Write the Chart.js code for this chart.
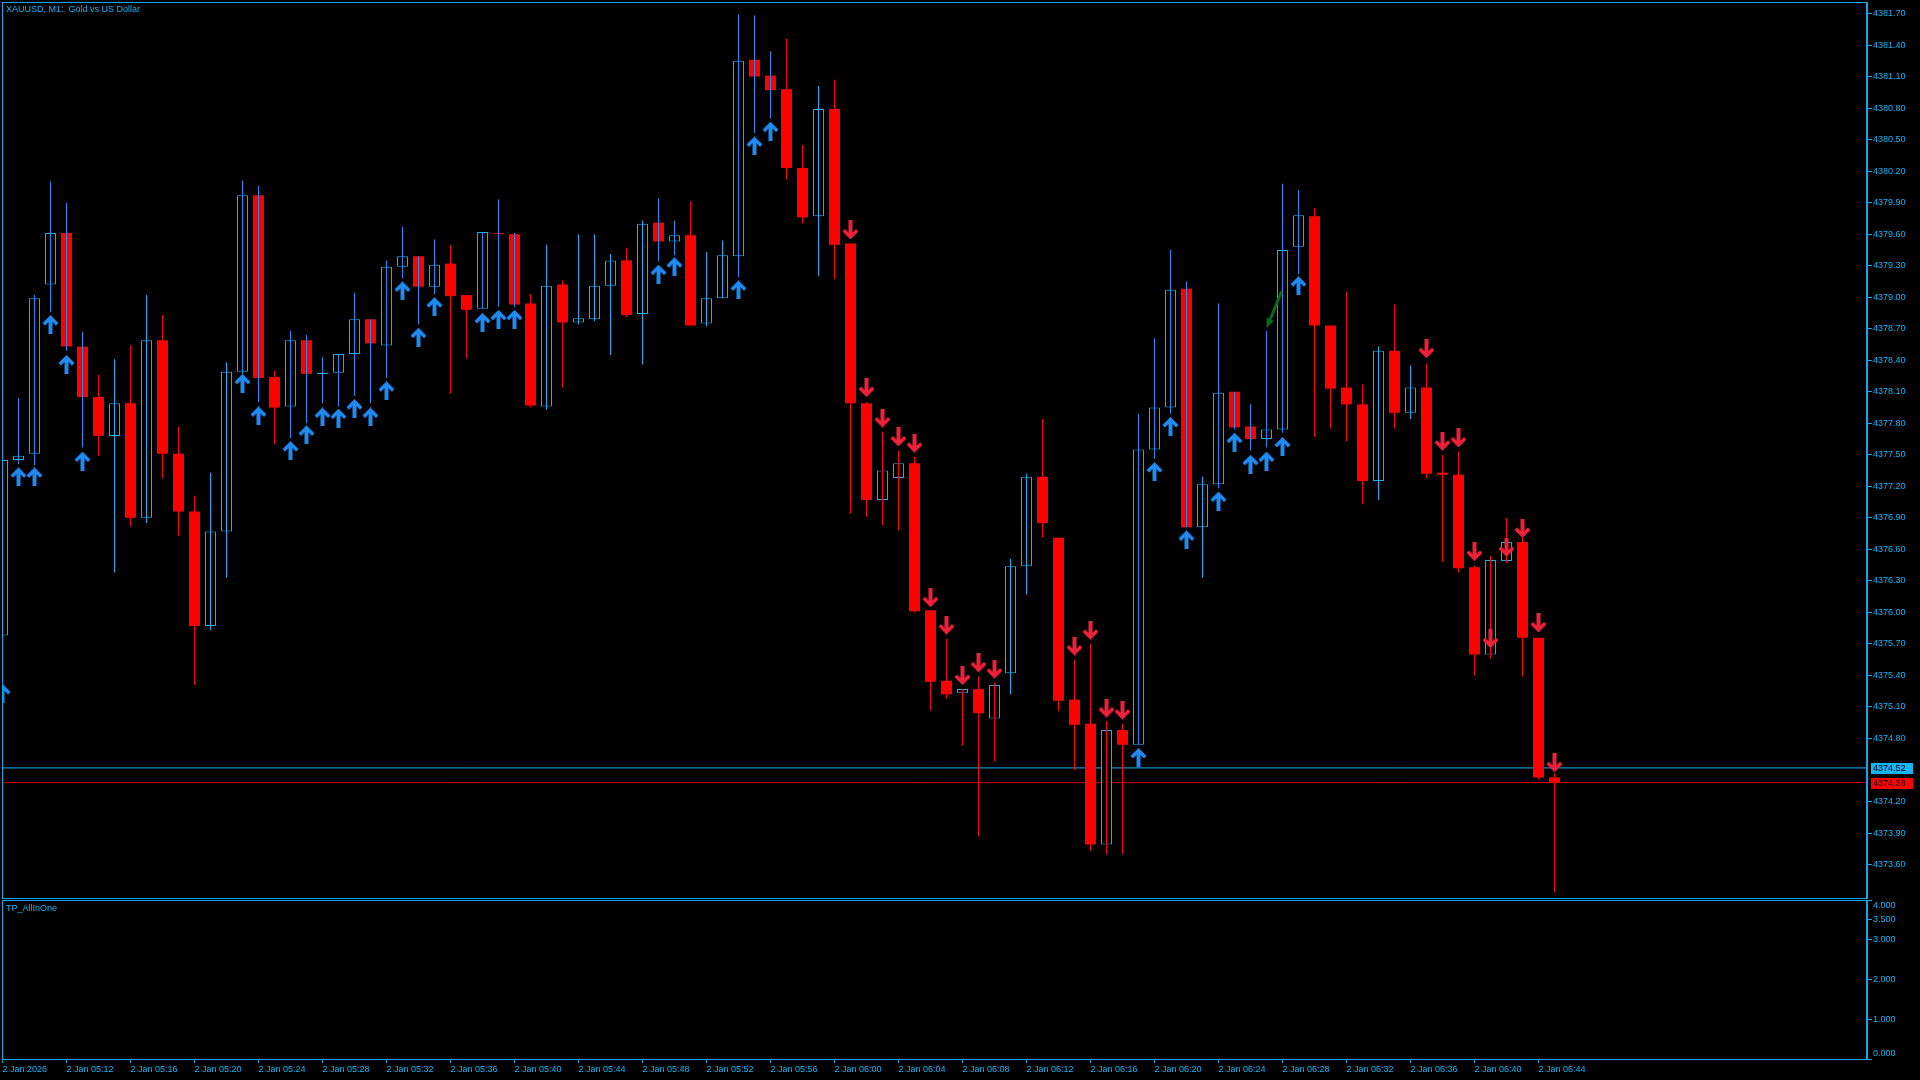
<!DOCTYPE html>
<html>
<head>
<meta charset="utf-8">
<title>XAUUSD, M1</title>
<script src="https://cdn.jsdelivr.net/npm/chart.js@4/dist/chart.umd.min.js"></script>
<style>
  html, body { margin: 0; padding: 0; background: #000; width: 1920px; height: 1080px; overflow: hidden; }
  canvas { position: absolute; left: 0; }
  #priceCanvas { top: 0; }
  #indCanvas { top: 890px; }
  .label { position: absolute; font: 9px 'Liberation Sans', sans-serif; line-height: 11px; color: #14B4FA; white-space: pre; }
</style>
</head>
<body>
<canvas id="priceCanvas" width="1920" height="900"></canvas>
<canvas id="indCanvas" width="1920" height="190"></canvas>
<div class="label" style="left:6px; top:4px;">XAUUSD, M1:  Gold vs US Dollar</div>
<div class="label" style="left:6px; top:903px;">TP_AllInOne</div>
<script>
// XAUUSD M1 candles, 2 Jan 2026 05:08 .. 06:45 (index = minutes after 05:08)
const opens = [
  4375.78, 4377.45, 4377.51, 4379.12, 4379.61, 4378.53, 4378.05, 4377.68, 4377.99, 4376.90,
  4378.59, 4377.51, 4376.96, 4375.87, 4376.77, 4378.29, 4379.97, 4378.24, 4377.96, 4378.59,
  4378.27, 4378.28, 4378.46, 4378.79, 4378.54, 4379.29, 4379.39, 4379.10, 4379.32, 4379.02,
  4378.89, 4379.61, 4379.60, 4378.94, 4377.96, 4379.12, 4378.76, 4378.79, 4379.11, 4379.35,
  4378.84, 4379.71, 4379.53, 4379.59, 4378.75, 4378.99, 4379.39, 4381.26, 4381.11, 4380.98,
  4380.23, 4379.77, 4380.79, 4379.51, 4377.99, 4377.07, 4377.28, 4377.42, 4376.02, 4375.35,
  4375.23, 4375.27, 4374.99, 4375.42, 4376.44, 4377.29, 4376.71, 4375.17, 4374.94, 4373.79,
  4374.88, 4374.74, 4377.55, 4377.95, 4379.08, 4376.81, 4377.22, 4378.10, 4377.77, 4377.65,
  4377.74, 4379.48, 4379.77, 4378.73, 4378.14, 4377.98, 4377.25, 4378.49, 4377.90, 4378.14,
  4377.33, 4377.31, 4376.43, 4375.60, 4376.49, 4376.67, 4375.76, 4374.43
];
const highs = [
  4377.55, 4378.04, 4379.02, 4380.10, 4379.90, 4378.67, 4378.26, 4378.41, 4378.54, 4379.02,
  4378.83, 4377.77, 4377.11, 4377.33, 4378.38, 4380.11, 4380.06, 4378.30, 4378.68, 4378.64,
  4378.43, 4378.46, 4379.04, 4378.79, 4379.35, 4379.67, 4379.39, 4379.55, 4379.50, 4379.02,
  4379.62, 4379.93, 4379.61, 4379.03, 4379.50, 4379.16, 4379.60, 4379.60, 4379.41, 4379.47,
  4379.73, 4379.94, 4379.73, 4379.91, 4379.43, 4379.54, 4381.69, 4381.68, 4381.34, 4381.46,
  4380.45, 4381.01, 4381.07, 4379.51, 4378.00, 4377.72, 4377.54, 4377.48, 4376.02, 4375.75,
  4375.27, 4375.39, 4375.33, 4376.51, 4377.32, 4377.84, 4376.71, 4375.55, 4375.70, 4374.97,
  4374.94, 4377.89, 4378.61, 4379.45, 4379.15, 4377.29, 4378.94, 4378.10, 4377.98, 4378.68,
  4380.08, 4380.02, 4379.85, 4378.73, 4379.05, 4378.17, 4378.53, 4378.93, 4378.35, 4378.37,
  4377.50, 4377.53, 4376.45, 4376.54, 4376.90, 4376.71, 4375.76, 4374.47
];
const lows = [
  4375.35, 4377.41, 4377.40, 4378.86, 4378.49, 4377.57, 4377.49, 4376.38, 4376.82, 4376.85,
  4377.28, 4376.73, 4375.31, 4375.83, 4376.33, 4378.27, 4378.00, 4377.60, 4377.66, 4377.80,
  4377.99, 4377.96, 4378.06, 4377.99, 4378.23, 4379.18, 4378.74, 4379.03, 4378.08, 4378.42,
  4378.89, 4378.91, 4378.91, 4377.95, 4377.93, 4378.14, 4378.74, 4378.77, 4378.45, 4378.81,
  4378.36, 4379.34, 4379.40, 4378.73, 4378.72, 4378.99, 4379.19, 4380.56, 4380.70, 4380.12,
  4379.70, 4379.20, 4379.17, 4376.94, 4376.91, 4376.83, 4376.78, 4376.00, 4375.07, 4375.18,
  4374.73, 4373.87, 4374.58, 4375.22, 4376.17, 4376.71, 4375.06, 4374.50, 4373.73, 4373.70,
  4373.70, 4374.74, 4377.46, 4377.89, 4376.81, 4376.33, 4377.18, 4377.74, 4377.54, 4377.57,
  4377.71, 4379.22, 4377.67, 4377.75, 4377.63, 4377.03, 4377.07, 4377.75, 4377.84, 4377.28,
  4376.48, 4376.38, 4375.40, 4375.56, 4376.47, 4375.39, 4374.41, 4373.34
];
const closes = [
  4377.45, 4377.49, 4378.99, 4379.61, 4378.53, 4378.05, 4377.68, 4377.99, 4376.90, 4378.59,
  4377.51, 4376.96, 4375.87, 4376.77, 4378.29, 4379.97, 4378.23, 4377.95, 4378.59, 4378.27,
  4378.28, 4378.46, 4378.79, 4378.56, 4379.29, 4379.39, 4379.10, 4379.31, 4379.01, 4378.88,
  4379.62, 4379.60, 4378.93, 4377.97, 4379.11, 4378.76, 4378.80, 4379.11, 4379.35, 4378.83,
  4379.70, 4379.53, 4379.59, 4378.73, 4378.99, 4379.40, 4381.25, 4381.10, 4380.97, 4380.23,
  4379.76, 4380.79, 4379.50, 4377.99, 4377.07, 4377.35, 4377.42, 4376.01, 4375.34, 4375.22,
  4375.27, 4375.04, 4375.31, 4376.44, 4377.29, 4376.85, 4375.16, 4374.93, 4373.79, 4374.88,
  4374.74, 4377.55, 4377.95, 4379.07, 4376.81, 4377.22, 4378.09, 4377.76, 4377.65, 4377.74,
  4379.45, 4379.78, 4378.73, 4378.13, 4377.98, 4377.25, 4378.49, 4377.90, 4378.14, 4377.32,
  4377.31, 4376.42, 4375.60, 4376.50, 4376.67, 4375.76, 4374.43, 4374.38
];

// TP_AllInOne signal arrows
const upArrowBars = [0, 1, 2, 3, 4, 5, 15, 16, 18, 19, 20, 21, 22, 23, 24, 25, 26, 27, 30, 31, 32,
  41, 42, 46, 47, 48, 71, 72, 73, 74, 76, 77, 78, 79, 80, 81];
const upArrowPrices = [4375.23, 4377.29, 4377.29, 4378.74, 4378.36, 4377.44, 4378.18, 4377.87,
  4377.54, 4377.69, 4377.86, 4377.85, 4377.94, 4377.86, 4378.11, 4379.06, 4378.62, 4378.91,
  4378.76, 4378.79, 4378.79, 4379.22, 4379.29, 4379.07, 4380.44, 4380.58, 4374.62, 4377.34,
  4377.77, 4376.69, 4377.06, 4377.62, 4377.41, 4377.44, 4377.58, 4379.11];
const downArrowBars = [53, 54, 55, 56, 57, 58, 59, 60, 61, 62, 67, 68, 69, 70,
  89, 90, 91, 92, 93, 94, 95, 96, 97];
const downArrowPrices = [4379.64, 4378.14, 4377.85, 4377.67, 4377.61, 4376.14, 4375.88, 4375.40,
  4375.52, 4375.46, 4375.68, 4375.83, 4375.09, 4375.07, 4378.51, 4377.63, 4377.66, 4376.58,
  4375.75, 4376.62, 4376.80, 4375.90, 4374.57];
const signalArrowBars = [79.47];
const signalArrowPrices = [4378.88];

const askPrice = 4374.52;
const bidPrice = 4374.38;

const priceTicks = [4381.70, 4381.40, 4381.10, 4380.80, 4380.50, 4380.20, 4379.90, 4379.60,
  4379.30, 4379.00, 4378.70, 4378.40, 4378.10, 4377.80, 4377.50, 4377.20, 4376.90, 4376.60,
  4376.30, 4376.00, 4375.70, 4375.40, 4375.10, 4374.80, 4374.20, 4373.90, 4373.60];
const timeTickBars = [0, 4, 8, 12, 16, 20, 24, 28, 32, 36, 40, 44, 48, 52, 56, 60, 64, 68, 72, 76, 80, 84, 88, 92, 96];
const timeTickLabels = ['2 Jan 2026', '2 Jan 05:12', '2 Jan 05:16', '2 Jan 05:20', '2 Jan 05:24',
  '2 Jan 05:28', '2 Jan 05:32', '2 Jan 05:36', '2 Jan 05:40', '2 Jan 05:44', '2 Jan 05:48',
  '2 Jan 05:52', '2 Jan 05:56', '2 Jan 06:00', '2 Jan 06:04', '2 Jan 06:08', '2 Jan 06:12',
  '2 Jan 06:16', '2 Jan 06:20', '2 Jan 06:24', '2 Jan 06:28', '2 Jan 06:32', '2 Jan 06:36',
  '2 Jan 06:40', '2 Jan 06:44'];
const indicatorTicks = [0, 1, 2, 3, 3.5, 4];

// Colours
const AXIS_BLUE = '#12A8EE';
const TEXT_BLUE = '#14B4FA';
const CANDLE_BLUE = '#16AEF5';
const SIGNAL_BLUE = '#1E8CF5';
const CANDLE_RED = '#FF0000';
const ARROW_BLUE = '#1E8AF2';
const ARROW_RED = '#F0203A';
const SIGNAL_GREEN = '#0E6B1A';
const FONT = { family: 'Liberation Sans', size: 9 };

// x range: one bar = 16px, bar centres on half pixels
const X_MIN = -0.03125;
const X_MAX = 116.53125;
const Y_MIN = 4373.282;
const Y_MAX = 4381.8095;

// Arrow glyphs
function makeArrow(color, down) {
    const c = document.createElement('canvas');
    c.width = 17;
    c.height = 19;
    const g = c.getContext('2d');
    if (down) {
        g.translate(0, 19);
        g.scale(1, -1);
    }
    g.fillStyle = color;
    g.beginPath();
    g.moveTo(8.5, 0);
    g.lineTo(16.5, 8);
    g.lineTo(14, 10.5);
    g.lineTo(10.5, 7);
    g.lineTo(10.5, 19);
    g.lineTo(6.5, 19);
    g.lineTo(6.5, 7);
    g.lineTo(3, 10.5);
    g.lineTo(0.5, 8);
    g.closePath();
    g.fill();
    return c;
}

function makeSignalArrow() {
    const c = document.createElement('canvas');
    c.width = 18;
    c.height = 40;
    const g = c.getContext('2d');
    g.strokeStyle = SIGNAL_GREEN;
    g.fillStyle = SIGNAL_GREEN;
    g.lineWidth = 3;
    g.beginPath();
    g.moveTo(16.5, 1.5);
    g.lineTo(5.3, 29.2);
    g.stroke();
    g.beginPath();
    g.moveTo(1.5, 38.5);
    g.lineTo(9.0, 30.7);
    g.lineTo(1.5, 27.7);
    g.closePath();
    g.fill();
    return c;
}

const upArrow = makeArrow(ARROW_BLUE, false);
const downArrow = makeArrow(ARROW_RED, true);
const signalArrow = makeSignalArrow();

// Wick colour follows the indicator signal, otherwise candle direction
const wickColors = opens.map((o, i) => {
    if (upArrowBars.includes(i)) return SIGNAL_BLUE;
    if (downArrowBars.includes(i)) return CANDLE_RED;
    return closes[i] >= o ? CANDLE_BLUE : CANDLE_RED;
});
const isUp = opens.map((o, i) => closes[i] >= o);

// keep the plot area where the layout padding puts it
function noPad(s) {
    s.paddingLeft = 0;
    s.paddingRight = 0;
    s.paddingTop = 0;
    s.paddingBottom = 0;
}

// Frame around each panel
const framePlugin = {
    id: 'frame',
    afterDraw(chart) {
        const { ctx, chartArea } = chart;
        ctx.save();
        ctx.strokeStyle = AXIS_BLUE;
        ctx.lineWidth = 1;
        ctx.strokeRect(chartArea.left + 0.5, chartArea.top + 0.5,
            chartArea.right - chartArea.left - 1, chartArea.bottom - chartArea.top);
        ctx.restore();
    }
};

// Ask / bid tags on the price scale
const priceTagPlugin = {
    id: 'priceTags',
    afterDraw(chart) {
        const { ctx, chartArea } = chart;
        const y = chart.scales.y;
        ctx.save();
        ctx.font = '9px "Liberation Sans"';
        ctx.textBaseline = 'middle';
        [[askPrice, '#14B4FA'], [bidPrice, '#FF0000']].forEach(([p, color]) => {
            const py = Math.round(y.getPixelForValue(p));
            ctx.fillStyle = color;
            ctx.fillRect(chartArea.right + 4, py - 5, 42, 11);
            ctx.fillStyle = '#000';
            ctx.fillText(p.toFixed(2), chartArea.right + 6, py + 1);
        });
        ctx.restore();
    }
};

new Chart(document.getElementById('priceCanvas'), {
    type: 'bar',
    data: {
        datasets: [
            {
                type: 'scatter',
                label: 'up signals',
                data: upArrowBars.map((b, i) => ({ x: b, y: upArrowPrices[i] })),
                pointStyle: upArrow,
                pointRadius: 8,
                clip: 0,
                order: 0
            },
            {
                type: 'scatter',
                label: 'down signals',
                data: downArrowBars.map((b, i) => ({ x: b, y: downArrowPrices[i] })),
                pointStyle: downArrow,
                pointRadius: 8,
                clip: 0,
                order: 0
            },
            {
                type: 'scatter',
                label: 'arrow object',
                data: signalArrowBars.map((b, i) => ({ x: b, y: signalArrowPrices[i] })),
                pointStyle: signalArrow,
                pointRadius: 8,
                clip: 0,
                order: 0
            },
            {
                label: 'wicks',
                data: opens.map((o, i) => ({ x: i, y: [lows[i], highs[i]] })),
                backgroundColor: wickColors,
                borderWidth: 0,
                barThickness: 1,
                grouped: false,
                inflateAmount: 0,
                clip: 0,
                order: 1
            },
            {
                label: 'bodies',
                data: opens.map((o, i) => ({ x: i, y: [o, closes[i]] })),
                backgroundColor: isUp.map(u => u ? '#000000' : CANDLE_RED),
                borderColor: isUp.map(u => u ? CANDLE_BLUE : CANDLE_RED),
                borderWidth: isUp.map(u => u ? 1 : 0),
                borderSkipped: false,
                barThickness: 11,
                grouped: false,
                inflateAmount: 0,
                clip: 0,
                order: 2
            },
            {
                type: 'line',
                label: 'ask',
                data: [{ x: X_MIN, y: askPrice }, { x: X_MAX, y: askPrice }],
                borderColor: '#14B4FA',
                borderWidth: 1,
                pointRadius: 0,
                clip: 0,
                order: 3
            },
            {
                type: 'line',
                label: 'bid',
                data: [{ x: X_MIN, y: bidPrice }, { x: X_MAX, y: bidPrice }],
                borderColor: '#D00000',
                borderWidth: 1,
                pointRadius: 0,
                clip: 0,
                order: 3
            }
        ]
    },
    options: {
        responsive: false,
        animation: false,
        events: [],
        layout: { autoPadding: false, padding: { left: 2, top: 2, right: 0, bottom: 2 } },
        plugins: { legend: { display: false }, tooltip: { enabled: false } },
        scales: {
            x: {
                type: 'linear',
                min: X_MIN,
                max: X_MAX,
                offset: false,
                display: false,
                afterFit: s => { noPad(s); }
            },
            y: {
                type: 'linear',
                position: 'right',
                min: Y_MIN,
                max: Y_MAX,
                afterFit: s => { s.width = 53; noPad(s); },
                afterBuildTicks: s => { s.ticks = priceTicks.map(v => ({ value: v })); },
                grid: { drawOnChartArea: false, color: AXIS_BLUE, tickLength: 5 },
                border: { display: true, color: AXIS_BLUE },
                ticks: {
                    color: TEXT_BLUE,
                    font: FONT,
                    padding: 1,
                    autoSkip: false,
                    callback: v => Number(v).toFixed(2)
                }
            }
        }
    },
    plugins: [framePlugin, priceTagPlugin]
});

// Indicator sub-window (empty)
new Chart(document.getElementById('indCanvas'), {
    type: 'line',
    data: { datasets: [{ label: 'TP_AllInOne', data: [] }] },
    options: {
        responsive: false,
        animation: false,
        events: [],
        layout: { autoPadding: false, padding: { left: 2, top: 10, right: 0, bottom: 0 } },
        plugins: { legend: { display: false }, tooltip: { enabled: false } },
        scales: {
            x: {
                type: 'linear',
                min: X_MIN,
                max: X_MAX,
                offset: false,
                afterFit: s => { s.height = 21; noPad(s); },
                afterBuildTicks: s => { s.ticks = timeTickBars.map(v => ({ value: v })); },
                grid: { drawOnChartArea: false, color: AXIS_BLUE, tickLength: 4 },
                border: { display: true, color: AXIS_BLUE },
                ticks: {
                    color: TEXT_BLUE,
                    font: FONT,
                    padding: 1,
                    align: 'start',
                    maxRotation: 0,
                    autoSkip: false,
                    callback: (v, idx) => timeTickLabels[idx]
                }
            },
            y: {
                type: 'linear',
                position: 'right',
                min: 0,
                max: 4,
                afterFit: s => { s.width = 53; noPad(s); },
                afterBuildTicks: s => { s.ticks = indicatorTicks.map(v => ({ value: v })); },
                grid: { drawOnChartArea: false, color: AXIS_BLUE, tickLength: 5 },
                border: { display: true, color: AXIS_BLUE },
                ticks: {
                    color: TEXT_BLUE,
                    font: FONT,
                    padding: 1,
                    autoSkip: false,
                    // edge labels sit inside the panel, like the terminal draws them
                    callback: v => {
                        const txt = Number(v).toFixed(3);
                        if (v === 4) return ['', txt];
                        if (v === 0) return [txt, ''];
                        return txt;
                    }
                }
            }
        }
    },
    plugins: [framePlugin]
});
</script>
</body>
</html>
